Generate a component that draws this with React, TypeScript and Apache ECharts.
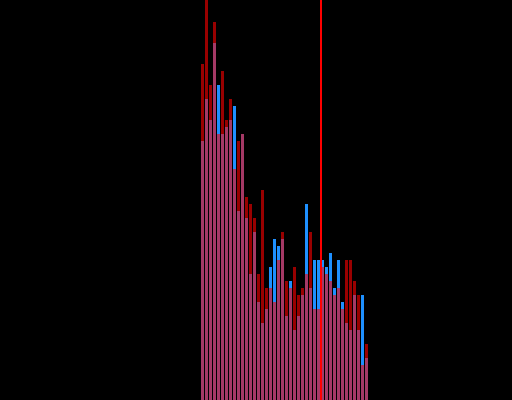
import React, { useEffect, useRef } from "react";
import * as echarts from "echarts";

// 42 bins, values (units: 7 px each)
const bins: number[] = Array.from({ length: 42 }, (_, i) => i);
const redValues: number[] = [
  48, 58, 45, 54, 38, 47, 40, 43, 33, 37, 38, 29, 28, 26, 18, 30, 16, 16, 14, 20, 24,
  17, 16, 19, 15, 16, 18, 24, 13, 13, 19, 18, 17, 15, 16, 13, 20, 20, 17, 15, 5, 8,
];
const blueValues: number[] = [
  37, 43, 40, 51, 45, 38, 39, 40, 42, 27, 38, 26, 18, 24, 14, 11, 13, 19, 23, 22, 23,
  12, 17, 10, 12, 15, 28, 16, 20, 20, 20, 19, 21, 16, 20, 14, 11, 10, 15, 10, 15, 6,
];
const markerPosition = 29.5;

export default function App() {
  const ref = useRef<HTMLDivElement>(null);
  useEffect(() => {
    if (!ref.current) return;
    const chart = echarts.init(ref.current, null, { renderer: "svg" });
    chart.setOption({
      animation: false,
      backgroundColor: "#000000",
      grid: { left: 200.5, width: 168, top: 0, height: 400 },
      xAxis: {
        type: "value",
        min: -0.5,
        max: 41.5,
        show: false,
        splitLine: { show: false },
      },
      yAxis: {
        type: "value",
        min: 0,
        max: 400 / 7,
        show: false,
        splitLine: { show: false },
      },
      series: [
        {
          type: "bar",
          data: bins.map((b, i) => [b, blueValues[i]]),
          barWidth: 3,
          barGap: "-100%",
          itemStyle: { color: "#1e90ff" },
        },
        {
          type: "bar",
          data: bins.map((b, i) => [b, redValues[i]]),
          barWidth: 3,
          barGap: "-100%",
          itemStyle: { color: "#ff0000", opacity: 0.6 },
          markLine: {
            symbol: "none",
            silent: true,
            label: { show: false },
            lineStyle: { color: "#ff0000", width: 2, type: "solid" },
            data: [{ xAxis: markerPosition }],
          },
        },
      ],
    });
    return () => chart.dispose();
  }, []);
  return (
    <div
      ref={ref}
      style={{ position: "absolute", left: 0, top: 0, width: 512, height: 400 }}
    />
  );
}
